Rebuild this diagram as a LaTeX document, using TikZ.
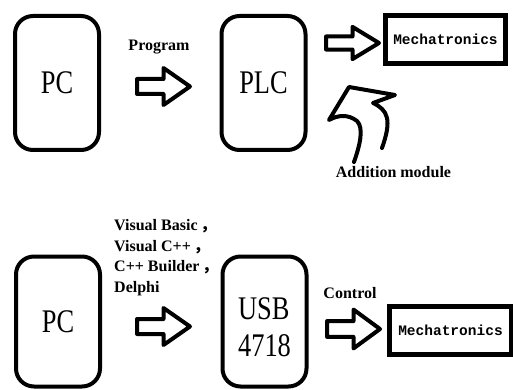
\documentclass[tikz,border=0pt]{standalone}
\usepackage{fontspec}
\setmainfont{Liberation Serif}
\newfontfamily\boxfont[FakeStretch=0.8]{Liberation Serif}
\newfontfamily\monofont{Liberation Mono}
\newfontfamily\cjk{Noto Sans CJK SC}
\usepackage{tikz}

\tikzset{
    unit/.style={draw, line width=4pt, rounded corners=18pt, minimum width=84pt, inner sep=0pt, font=\boxfont\fontsize{33}{37}\selectfont},
    device/.style={draw, line width=5pt, minimum height=48pt, inner sep=0pt, font=\monofont\bfseries\fontsize{14.5}{16}\selectfont},
    note/.style={inner sep=0pt, font=\bfseries\fontsize{16}{20.5}\selectfont},
    fatarrow/.pic={
        \draw[line width=4pt, line join=round] (-26.5,-7.5) -- (0,-7.5) -- (0,-18.5) -- (26.5,0) -- (0,18.5) -- (0,7.5) -- (-26.5,7.5) -- cycle;
    }
}

\begin{document}
\begin{tikzpicture}[x=1pt, y=-1pt]
        \useasboundingbox (0,0) rectangle (513,390);

        \node[unit, minimum height=134pt] (pcA) at (57,83) {PC};
        \node[unit, minimum height=134pt] (plc) at (263.5,83) {PLC};
        \node[device, minimum width=119.5pt] (mechA) at (445.5,39.5) {Mechatronics};

        \node[unit, minimum height=130pt] (pcB) at (58,321.5) {PC};
        \node[unit, minimum height=130pt, label={[font=\boxfont\fontsize{33}{37}\selectfont, align=left, yshift=-6pt]center:USB\\4718}] (usb) at (264.5,321.5) {};
        \node[device, minimum width=122pt] (mechB) at (450.5,330.5) {Mechatronics};

        \node[note] (prog) at (159,47) {Program};
        \node[note] (addmod) at (393.5,172) {Addition module};
        \node[note, anchor=west, align=left] (langs) at (114,257.5) {Visual Basic\,\cjk{，}\\Visual C++\,\cjk{，}\\C++ Builder\,\cjk{，}\\Delphi};
        \node[note] (ctrl) at (350,293) {Control};

        \pic at (163.5,86.5) {fatarrow};
        \pic[yscale=0.87] at (352.5,43) {fatarrow};
        \pic at (163.5,326.5) {fatarrow};
        \pic[yscale=1.05] at (353.5,329) {fatarrow};

        \draw[line width=4pt, line cap=round, line join=round] (354,162) .. controls (360,145) and (364,128) .. (357,121) .. controls (348,114) and (338,115) .. (329,120) -- (349,87) -- (395,95) -- (373,103) .. controls (388,110) and (392,120) .. (382,148);
\end{tikzpicture}
\end{document}
